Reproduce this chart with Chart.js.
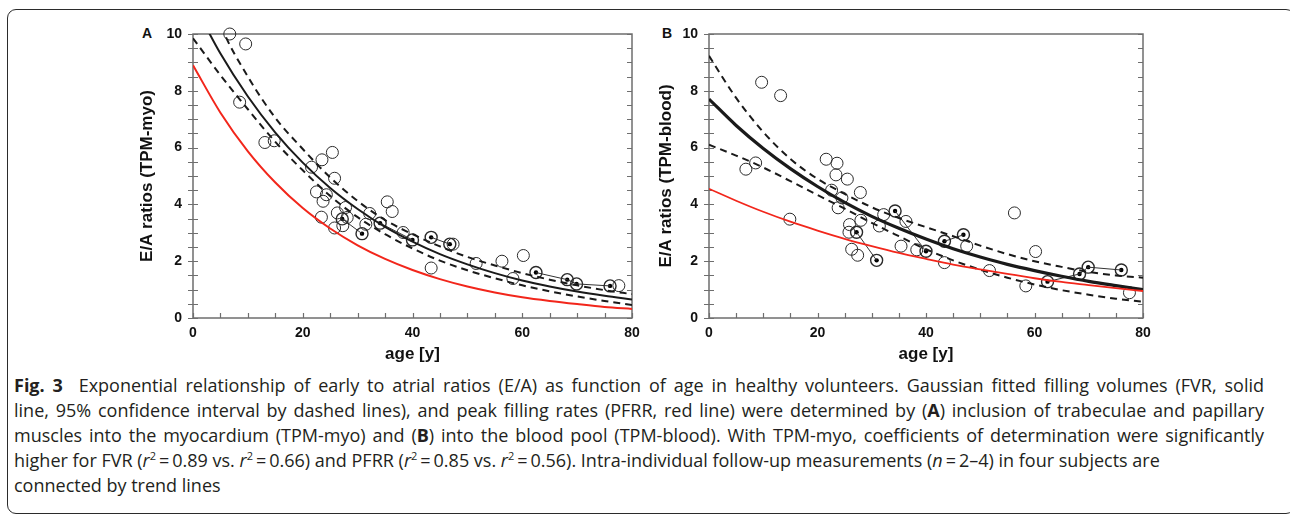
<!DOCTYPE html>
<html>
<head>
<meta charset="utf-8">
<script src="https://cdn.jsdelivr.net/npm/chart.js@4.4.1/dist/chart.umd.min.js"></script>
<style>
    html, body { margin: 0; padding: 0; background: #fff; }
    body { width: 1290px; height: 515px; position: relative; overflow: hidden; }
    .frame { position: absolute; left: 7px; top: 9px; width: 1286px; height: 503px; border: 1px solid #2b2b2b; border-radius: 9px; }
    canvas { position: absolute; }
    .panel-label { position: absolute; font: bold 14px "Liberation Sans", Arial, sans-serif; color: #111; }
    .caption { position: absolute; left: 14px; top: 373px; font: 18px "Open Sans", sans-serif; line-height: 25px; color: #231f20; white-space: nowrap; }
    .caption div { height: 25px; }
    .caption .full { width: 1250px; text-align: justify; text-align-last: justify; }
    .caption b { font-weight: 700; }
    .caption sup { font-size: 11px; line-height: 0; }
</style>
</head>
<body>
<div class="frame"></div>
<div class="panel-label" style="left:142px;top:25px;">A</div>
<div class="panel-label" style="left:662px;top:25px;">B</div>
<canvas id="chart-a" width="530" height="348" style="left:120px;top:20px;"></canvas>
<canvas id="chart-b" width="520" height="348" style="left:640px;top:20px;"></canvas>
<div class="caption">
<div class="full"><b>Fig. 3</b>&nbsp; Exponential relationship of early to atrial ratios (E/A) as function of age in healthy volunteers. Gaussian fitted filling volumes (FVR, solid</div>
<div class="full">line, 95% confidence interval by dashed lines), and peak filling rates (PFRR, red line) were determined by (<b>A</b>) inclusion of trabeculae and papillary</div>
<div class="full">muscles into the myocardium (TPM-myo) and (<b>B</b>) into the blood pool (TPM-blood). With TPM-myo, coefficients of determination were significantly</div>
<div>higher for FVR (<i>r</i><sup>2</sup>&#8201;=&#8201;0.89 vs. <i>r</i><sup>2</sup>&#8201;=&#8201;0.66) and PFRR (<i>r</i><sup>2</sup>&#8201;=&#8201;0.85 vs. <i>r</i><sup>2</sup>&#8201;=&#8201;0.56). Intra-individual follow-up measurements (<i>n</i>&#8201;=&#8201;2&ndash;4) in four subjects are</div>
<div>connected by trend lines</div>
</div>
<script>
"use strict";

var CURVE_AGES = [0, 5, 10, 15, 20, 25, 30, 35, 40, 45, 50, 55, 60, 65, 70, 75, 80];

// panel A (TPM-myo)
var FVR_A    = [11.12, 9.31, 7.80, 6.53, 5.47, 4.58, 3.84, 3.21, 2.69, 2.25, 1.89, 1.58, 1.32, 1.11, 0.93, 0.78, 0.65];
var FVR_A_HI = [13.5, 10.35, 8.5, 7.05, 5.95, 4.95, 4.12, 3.45, 2.95, 2.52, 2.15, 1.85, 1.58, 1.35, 1.15, 0.98, 0.84];
var FVR_A_LO = [9.85, 8.55, 7.35, 6.2, 5.2, 4.3, 3.55, 2.95, 2.45, 2.02, 1.68, 1.40, 1.15, 0.94, 0.76, 0.60, 0.46];
var PFRR_A   = [8.9, 7.23, 5.87, 4.77, 3.87, 3.15, 2.56, 2.08, 1.69, 1.37, 1.11, 0.90, 0.73, 0.60, 0.49, 0.39, 0.32];

var AGES_A = [6.7, 9.6, 8.5, 13.1, 14.8, 21.6, 23.5, 25.4, 25.8, 22.5, 23.7, 24.3, 23.4, 25.8, 26.3, 27.3, 28.1, 27.8,
    31.5, 32.2, 35.4, 36.3, 38.3, 43.4, 47.4, 51.6, 56.3, 58.3, 60.2, 77.6];
var RATIOS_A = [10.0, 9.65, 7.6, 6.18, 6.24, 5.31, 5.57, 5.83, 4.92, 4.44, 4.11, 4.34, 3.55, 3.17, 3.70, 3.25, 3.54, 3.89,
    3.30, 3.68, 4.09, 3.75, 3.01, 1.76, 2.60, 1.92, 2.00, 1.39, 2.20, 1.14];

// follow-up subjects, panel A
var FOLLOW_AGES_A = [[27.2, 30.8], [34.1, 40.0], [43.4, 46.8], [62.5, 68.2, 69.9, 76.0]];
var FOLLOW_RATIOS_A = [[3.49, 2.97], [3.34, 2.75], [2.84, 2.60], [1.60, 1.35, 1.20, 1.13]];

// panel B (TPM-blood)
var FVR_B    = [7.71, 6.78, 5.97, 5.26, 4.63, 4.07, 3.58, 3.16, 2.78, 2.44, 2.15, 1.89, 1.67, 1.47, 1.29, 1.14, 1.0];
var FVR_B_HI = [9.23, 7.75, 6.55, 5.6, 4.9, 4.37, 3.9, 3.52, 3.2, 2.88, 2.55, 2.25, 2.0, 1.8, 1.62, 1.5, 1.42];
var FVR_B_LO = [6.1, 5.72, 5.3, 4.82, 4.33, 3.85, 3.35, 2.88, 2.42, 2.03, 1.7, 1.42, 1.18, 0.98, 0.82, 0.68, 0.57];
var PFRR_B   = [4.55, 4.13, 3.74, 3.39, 3.08, 2.79, 2.53, 2.29, 2.08, 1.88, 1.71, 1.55, 1.40, 1.27, 1.16, 1.05, 0.95];

var AGES_B = [6.8, 8.6, 9.7, 13.2, 14.9, 21.6, 23.6, 23.4, 25.5, 22.6, 24.5, 27.9, 23.8, 25.9, 25.8, 28.0, 26.3, 27.4,
    31.4, 32.2, 36.3, 35.4, 38.3, 43.4, 47.5, 51.7, 56.3, 58.4, 60.2, 77.5];
var RATIOS_B = [5.24, 5.46, 8.30, 7.83, 3.48, 5.59, 5.45, 5.04, 4.89, 4.50, 4.23, 4.42, 3.88, 3.29, 3.02, 3.44, 2.42, 2.21,
    3.24, 3.64, 3.40, 2.53, 2.40, 1.95, 2.53, 1.67, 3.70, 1.13, 2.34, 0.89];

var FOLLOW_AGES_B = [[27.2, 30.9], [34.3, 40.0], [43.4, 46.9], [62.4, 68.3, 69.9, 76.0]];
var FOLLOW_RATIOS_B = [[3.02, 2.03], [3.77, 2.35], [2.70, 2.93], [1.28, 1.55, 1.79, 1.69]];

var X_TICKS_STEP = 20, X_MINOR_STEP = 5;
var Y_TICKS_STEP = 2, Y_MINOR_STEP = 0.5;

var INK = '#1a1a1a';
var RED = '#f2261b';
var AXIS_GRAY = '#6e6e6e';

function toPoints(xs, ys) {
    return xs.map(function(x, i) {
        return { x: x, y: ys[i] };
    });
}

// box round the plot area plus the small ticks, drawn through the scales
var frameTicks = {
    id: 'frameTicks',
    beforeDatasetsDraw: function(chart) {
        var a = chart.chartArea;
        var ctx = chart.ctx;
        var xs = chart.scales.x, ys = chart.scales.y;
        ctx.save();
        ctx.strokeStyle = AXIS_GRAY;
        ctx.lineWidth = 1.5;
        ctx.strokeRect(a.left, a.top, a.right - a.left, a.bottom - a.top);
        ctx.lineWidth = 1.2;
        ctx.beginPath();
        for (var v = ys.min; v <= ys.max; v += Y_MINOR_STEP) {
            var py = Math.round(ys.getPixelForValue(v)) + 0.5;
            ctx.moveTo(a.left - 5, py);
            ctx.lineTo(a.left + 5, py);
            ctx.moveTo(a.right - 5, py);
            ctx.lineTo(a.right, py);
        }
        for (var u = xs.min; u <= xs.max; u += X_MINOR_STEP) {
            var px = Math.round(xs.getPixelForValue(u)) + 0.5;
            ctx.moveTo(px, a.bottom);
            ctx.lineTo(px, a.bottom - 5);
        }
        ctx.stroke();
        ctx.restore();
    }
};

function curve(values, color, width, dash) {
    return {
        type: 'line',
        data: toPoints(CURVE_AGES, values),
        borderColor: color,
        borderWidth: width,
        borderDash: dash || [],
        pointRadius: 0,
        fill: false,
        cubicInterpolationMode: 'monotone'
    };
}

function buildDatasets(p) {
    var sets = [
        curve(p.pfrr, RED, p.redWidth),
        curve(p.hi, INK, 2, [7, 5]),
        curve(p.lo, INK, 2, [7, 5]),
        curve(p.fvr, INK, p.fvrWidth)
    ];
    sets.push({
        type: 'scatter',
        data: toPoints(p.ages, p.ratios),
        pointRadius: 6,
        pointBorderWidth: 1,
        pointBorderColor: '#2a2a2a',
        pointBackgroundColor: 'rgba(0,0,0,0)',
        clip: false
    });
    p.followAges.forEach(function(ages, i) {
        var pts = toPoints(ages, p.followRatios[i]);
        sets.push({
            type: 'line',
            data: pts,
            borderColor: '#333',
            borderWidth: 1,
            pointRadius: 6,
            pointBorderWidth: 1.4,
            pointBorderColor: '#2a2a2a',
            pointBackgroundColor: 'rgba(0,0,0,0)',
            tension: 0,
            clip: false
        });
        sets.push({
            type: 'scatter',
            data: pts,
            pointRadius: 2.2,
            pointBorderWidth: 0,
            pointBackgroundColor: '#000',
            clip: false
        });
    });
    return sets;
}

function createPanel(id, p) {
    var tickFont = { family: '"Liberation Sans", Arial, sans-serif', size: 14, weight: 'bold' };
    var titleFont = { family: '"Liberation Sans", Arial, sans-serif', size: 17, weight: 'bold' };
    return new Chart(document.getElementById(id), {
        data: { datasets: buildDatasets(p) },
        plugins: [frameTicks],
        options: {
            responsive: false,
            animation: false,
            devicePixelRatio: 1,
            layout: { padding: { top: 14, right: p.padRight, left: 0, bottom: 0 } },
            plugins: { legend: { display: false }, tooltip: { enabled: false } },
            scales: {
                x: {
                    type: 'linear',
                    min: 0,
                    max: 80,
                    grid: { display: false, drawTicks: false },
                    border: { display: false },
                    ticks: { stepSize: X_TICKS_STEP, padding: 7, color: '#111', font: tickFont, maxRotation: 0 },
                    title: { display: true, text: 'age [y]', color: '#111', font: titleFont, padding: { top: 0, bottom: 3 } },
                    afterFit: function(s) {
                        s.height = 50;
                        s.paddingLeft = 0;
                        s.paddingRight = 0;
                    }
                },
                y: {
                    type: 'linear',
                    min: 0,
                    max: 10,
                    grid: { display: false, drawTicks: false },
                    border: { display: false },
                    ticks: { stepSize: Y_TICKS_STEP, padding: 11, color: '#111', font: tickFont },
                    title: { display: true, text: p.yTitle, color: '#111', font: titleFont, padding: { top: p.titlePad, bottom: 0 } },
                    afterFit: function(s) {
                        s.width = p.yWidth;
                        s.paddingTop = 0;
                        s.paddingBottom = 0;
                    }
                }
            }
        }
    });
}

createPanel('chart-a', {
    fvr: FVR_A, hi: FVR_A_HI, lo: FVR_A_LO, pfrr: PFRR_A,
    ages: AGES_A, ratios: RATIOS_A,
    followAges: FOLLOW_AGES_A, followRatios: FOLLOW_RATIOS_A,
    fvrWidth: 2, redWidth: 2,
    yTitle: 'E/A ratios (TPM-myo)',
    yWidth: 73, titlePad: 17.5, padRight: 18
});

createPanel('chart-b', {
    fvr: FVR_B, hi: FVR_B_HI, lo: FVR_B_LO, pfrr: PFRR_B,
    ages: AGES_B, ratios: RATIOS_B,
    followAges: FOLLOW_AGES_B, followRatios: FOLLOW_RATIOS_B,
    fvrWidth: 3.2, redWidth: 1.8,
    yTitle: 'E/A ratios (TPM-blood)',
    yWidth: 69, titlePad: 16.5, padRight: 17
});
</script>
</body>
</html>
